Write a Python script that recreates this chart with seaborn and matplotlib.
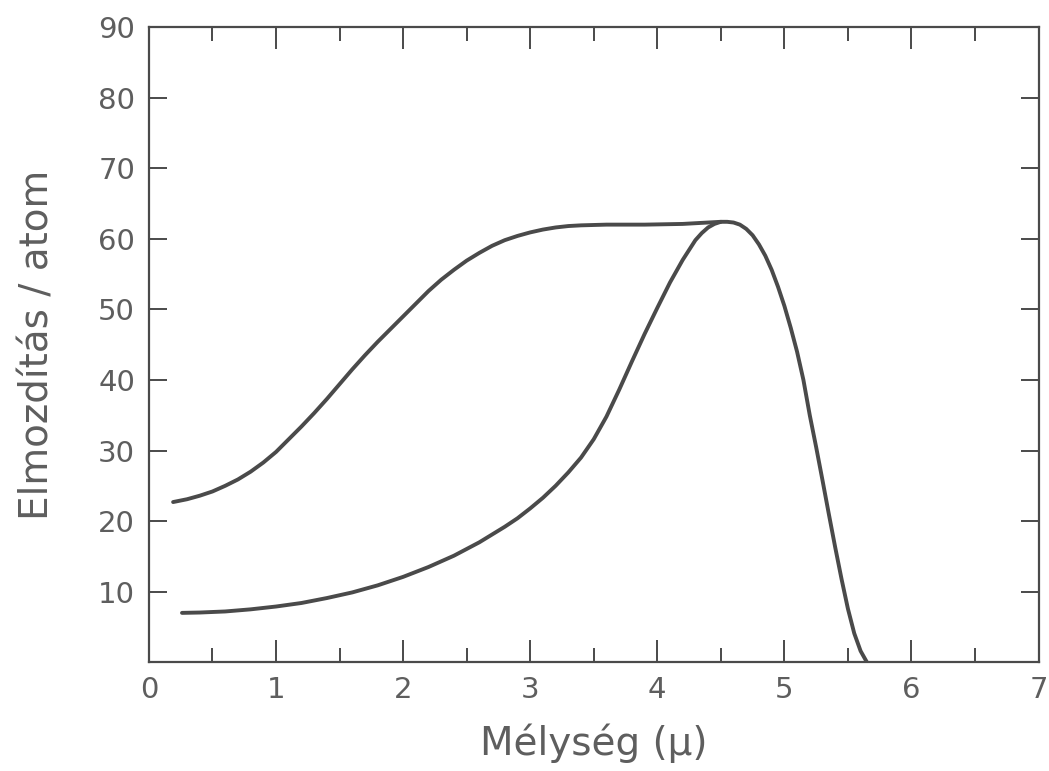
import matplotlib
matplotlib.use("Agg")
import matplotlib.pyplot as plt
from matplotlib.ticker import MultipleLocator
import pandas as pd
import seaborn as sns

# Upper curve: displacements per atom vs depth (plateau, then sharp drop)
upper_x = [0.19, 0.30, 0.40, 0.50, 0.60, 0.70, 0.80, 0.90, 1.00, 1.10, 1.20, 1.30,
           1.40, 1.50, 1.60, 1.70, 1.80, 1.90, 2.00, 2.10, 2.20, 2.30, 2.40, 2.50,
           2.60, 2.70, 2.80, 2.90, 3.00, 3.10, 3.20, 3.30, 3.40, 3.60, 3.90, 4.20,
           4.40, 4.50, 4.55, 4.60, 4.65, 4.70, 4.75, 4.80, 4.85, 4.90, 4.95, 5.00,
           5.05, 5.10, 5.15, 5.20, 5.25, 5.30, 5.35, 5.40, 5.45, 5.50, 5.55, 5.60,
           5.65]
upper_y = [22.7, 23.1, 23.6, 24.2, 25.0, 25.9, 27.0, 28.3, 29.8, 31.6, 33.4, 35.3,
           37.3, 39.4, 41.5, 43.5, 45.4, 47.2, 49.0, 50.8, 52.6, 54.2, 55.6, 56.9,
           58.0, 59.0, 59.8, 60.4, 60.9, 61.3, 61.6, 61.8, 61.9, 62.0, 62.0, 62.1,
           62.3, 62.4, 62.4, 62.3, 62.0, 61.4, 60.5, 59.2, 57.6, 55.6, 53.2, 50.5,
           47.4, 44.0, 40.0, 35.0, 30.5, 25.8, 21.0, 16.3, 11.8, 7.6, 4.1, 1.6,
           0.0]

# Lower curve: rises slowly, then joins the upper one at the peak
lower_x = [0.26, 0.40, 0.60, 0.80, 1.00, 1.20, 1.40, 1.60, 1.80, 2.00, 2.20, 2.40,
           2.60, 2.80, 2.90, 3.00, 3.10, 3.20, 3.30, 3.40, 3.50, 3.60, 3.70, 3.80,
           3.90, 4.00, 4.10, 4.20, 4.30, 4.35, 4.40, 4.45, 4.50]
lower_y = [7.0, 7.05, 7.2, 7.5, 7.9, 8.4, 9.1, 9.9, 10.9, 12.1, 13.5, 15.1,
           17.0, 19.2, 20.4, 21.8, 23.3, 25.0, 26.9, 29.0, 31.6, 34.8, 38.6, 42.6,
           46.5, 50.2, 53.8, 57.0, 59.8, 60.8, 61.6, 62.1, 62.4]

x_ticks = [0, 1, 2, 3, 4, 5, 6, 7]
y_ticks = [10, 20, 30, 40, 50, 60, 70, 80, 90]

df = pd.concat([
    pd.DataFrame({"x": upper_x, "y": upper_y, "curve": "a"}),
    pd.DataFrame({"x": lower_x, "y": lower_y, "curve": "b"}),
])

sns.set_theme(style="ticks")
plt.rcParams["font.family"] = ["DejaVu Sans"]

ink = "#4a4a4a"
text_ink = "#5e5e5e"

fig = plt.figure(figsize=(10.49, 7.71), dpi=100)
ax = fig.add_axes([0.142, 0.141, 0.848, 0.824])

sns.lineplot(data=df, x="x", y="y", hue="curve", units="curve", estimator=None,
             sort=False, palette=[ink, ink], linewidth=2.8, legend=False, ax=ax)
for line in ax.lines:
    line.set_solid_capstyle("round")
    line.set_solid_joinstyle("round")

ax.set_xlim(0, 7)
ax.set_ylim(0, 90)
ax.set_xticks(x_ticks)
ax.set_yticks(y_ticks)
ax.xaxis.set_minor_locator(MultipleLocator(0.5))

for side in ["left", "right", "top", "bottom"]:
    ax.spines[side].set_visible(True)
    ax.spines[side].set_color(ink)
    ax.spines[side].set_linewidth(1.6)

ax.tick_params(axis="x", which="major", direction="in", length=16, width=1.4,
               color=ink, top=True, bottom=True, pad=10, labelsize=21,
               labelcolor=text_ink)
ax.tick_params(axis="x", which="minor", direction="in", length=10, width=1.4,
               color=ink, top=True, bottom=True)
ax.tick_params(axis="y", which="major", direction="in", length=13, width=1.4,
               color=ink, left=True, right=True, pad=10, labelsize=21,
               labelcolor=text_ink)

ax.set_xlabel("Mélység (μ)", fontsize=28, color=text_ink, labelpad=14)
ax.set_ylabel("Elmozdítás / atom", fontsize=28, color=text_ink, labelpad=30)

fig.savefig("out.png", dpi=100, facecolor="white")
